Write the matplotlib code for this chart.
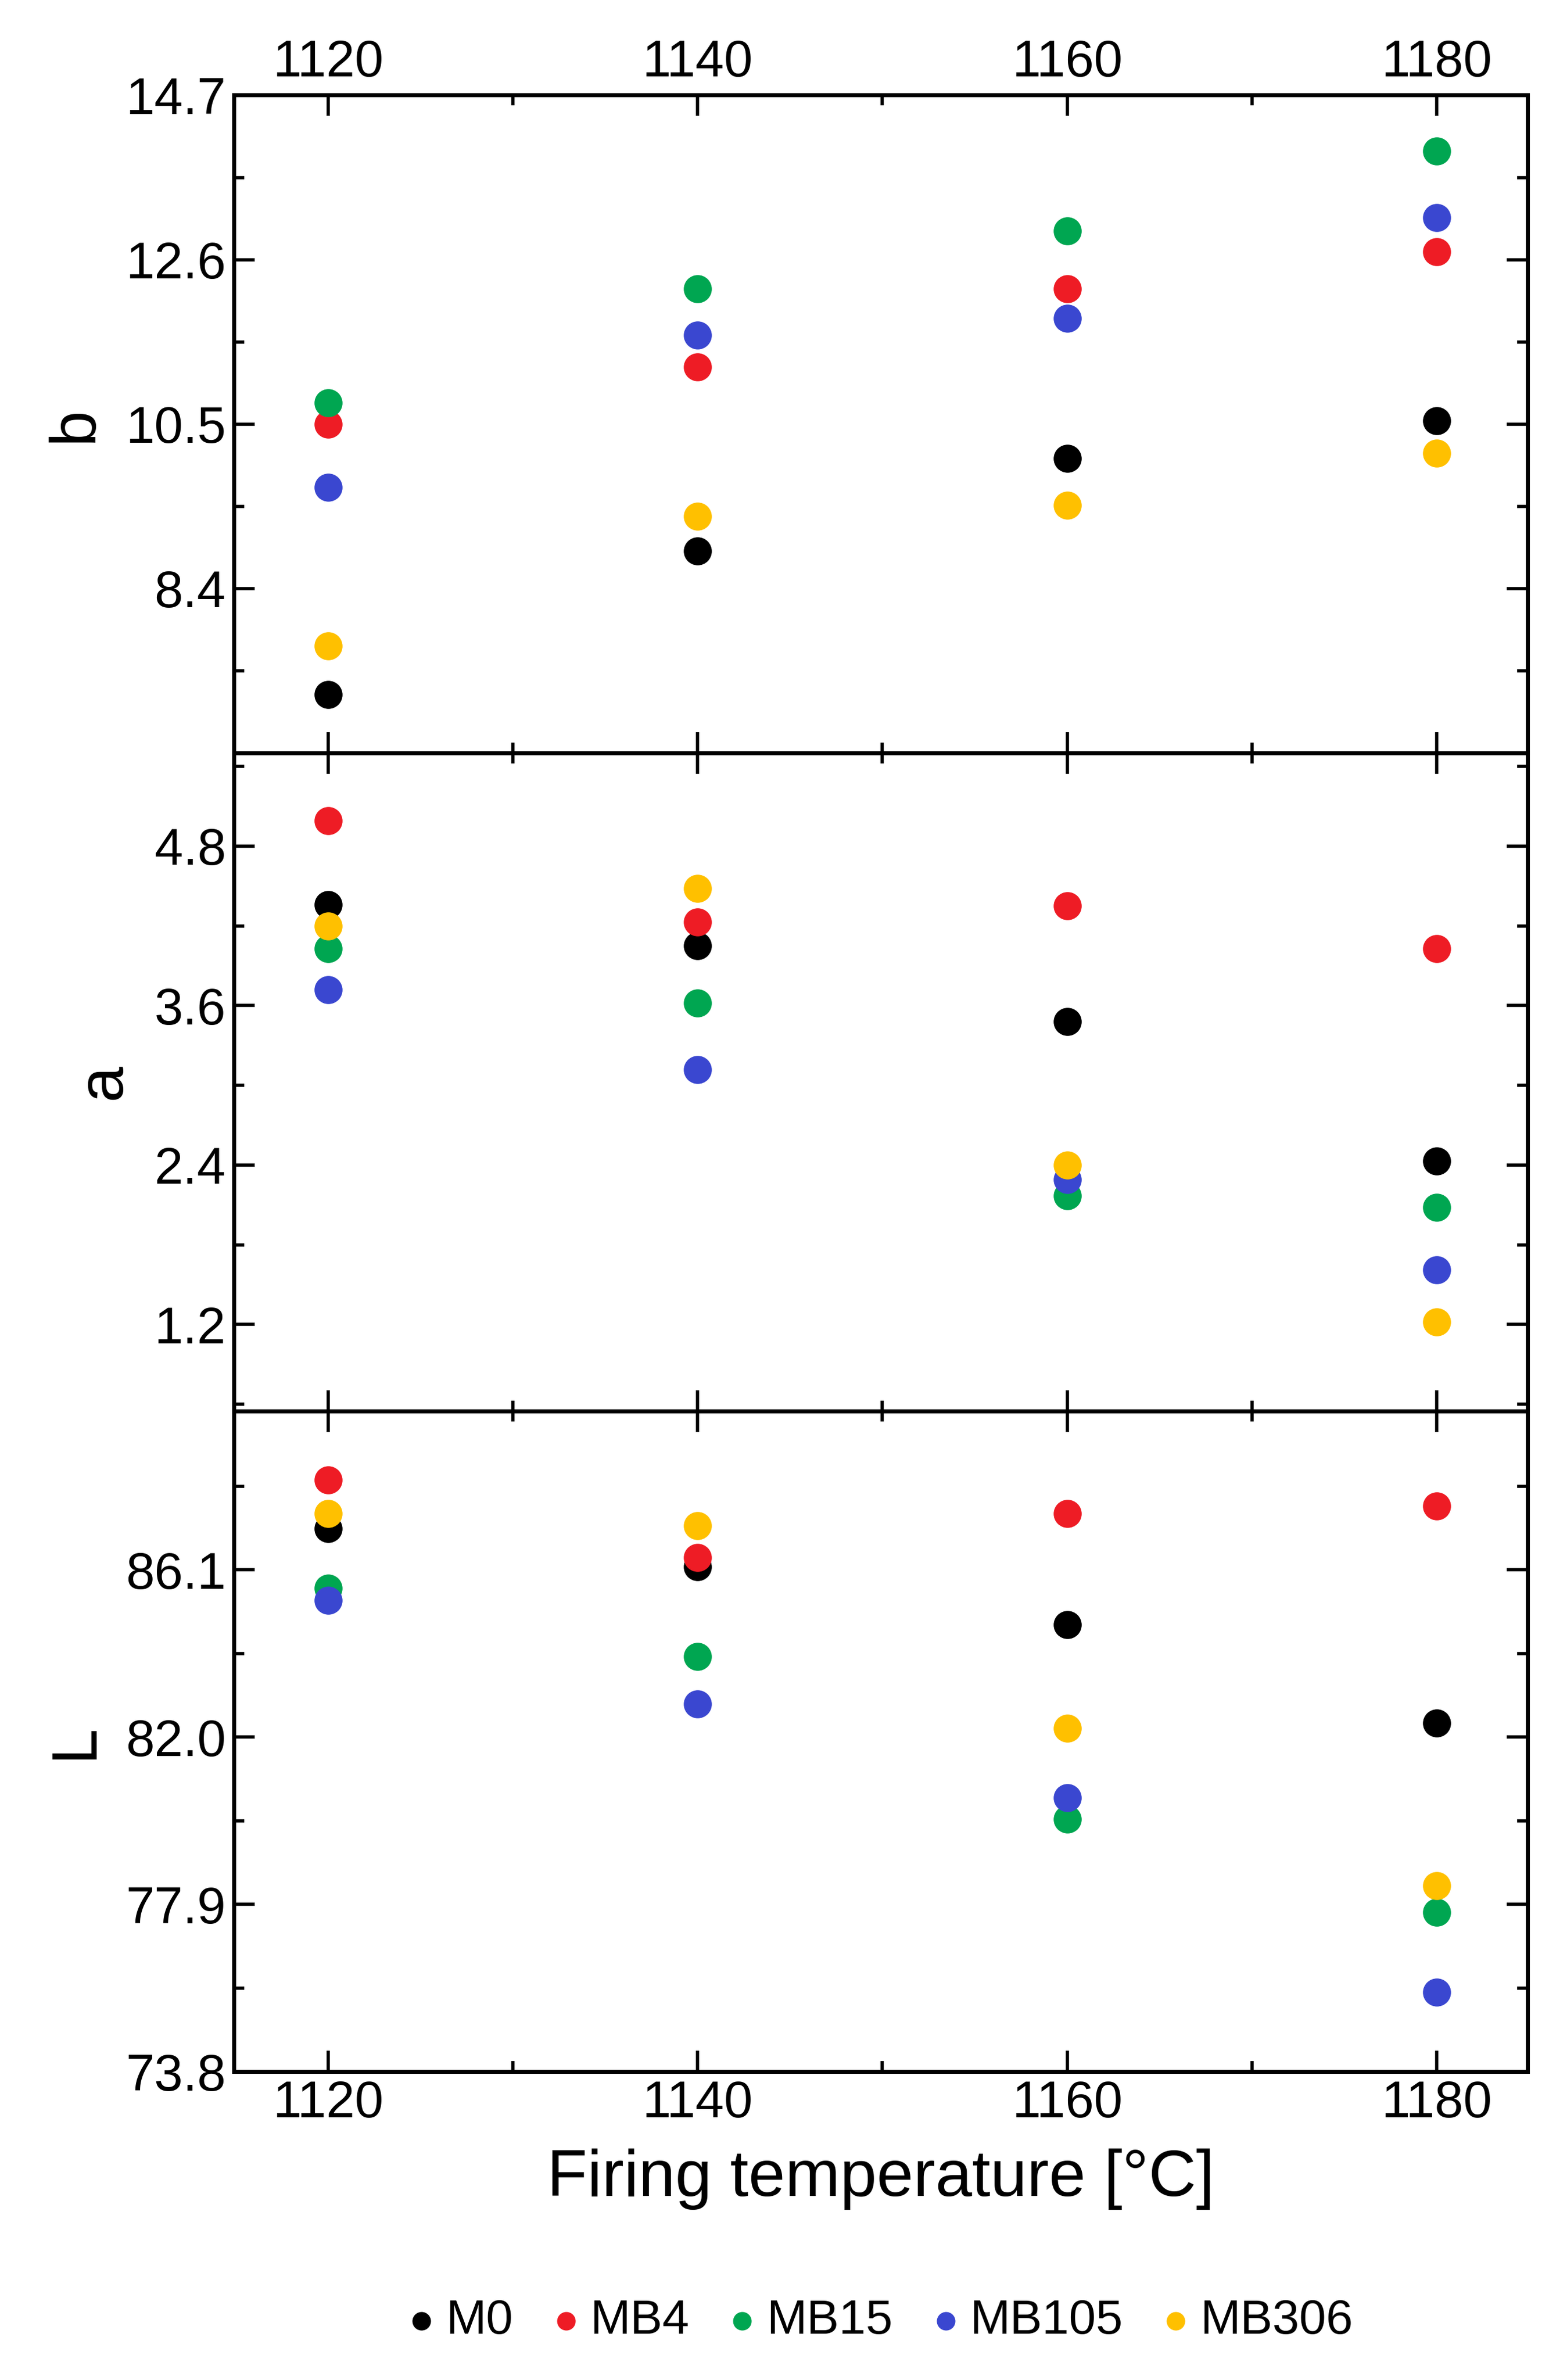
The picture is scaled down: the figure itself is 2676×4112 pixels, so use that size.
import matplotlib.pyplot as plt
from matplotlib.ticker import AutoMinorLocator

plt.rcParams['font.family'] = ['Liberation Sans', 'DejaVu Sans']

temps = [1120, 1140, 1160, 1180]
series = ["M0", "MB4", "MB15", "MB105", "MB306"]
colors = ["#000000", "#ee1c25", "#00a651", "#3a47d0", "#ffc000"]

b_vals = {"M0": [7.05, 8.88, 10.06, 10.54],
          "MB4": [10.50, 11.23, 12.23, 12.70],
          "MB15": [10.77, 12.23, 12.97, 13.99],
          "MB105": [9.69, 11.64, 11.85, 13.14],
          "MB306": [7.67, 9.32, 9.46, 10.13]}
a_vals = {"M0": [4.36, 4.05, 3.48, 2.43],
          "MB4": [4.99, 4.23, 4.35, 4.03],
          "MB15": [4.03, 3.62, 2.17, 2.08],
          "MB105": [3.72, 3.12, 2.29, 1.61],
          "MB306": [4.20, 4.48, 2.40, 1.22]}
L_vals = {"M0": [87.11, 86.17, 84.76, 82.34],
          "MB4": [88.30, 86.40, 87.48, 87.67],
          "MB15": [85.65, 83.98, 79.99, 77.71],
          "MB105": [85.35, 82.82, 80.51, 75.74],
          "MB306": [87.48, 87.18, 82.22, 78.35]}

fig = plt.figure(figsize=(26.76, 41.12), dpi=100)
left, width = 0.151, 0.835
bounds = [(0.6836, 0.960), (0.4072, 0.6836), (0.1296, 0.4072)]
panels = [("b", b_vals, (6.3, 14.7), [8.4, 10.5, 12.6, 14.7], "{:.1f}"),
          ("a", a_vals, (0.55, 5.5), [1.2, 2.4, 3.6, 4.8], "{:.1f}"),
          ("L", L_vals, (73.8, 90.0), [73.8, 77.9, 82.0, 86.1], "{:.1f}")]

axes = []
for i, ((lab, vals, ylim, yt, fmt), (y0, y1)) in enumerate(zip(panels, bounds)):
    ax = fig.add_axes([left, y0, width, y1 - y0])
    for s, c in zip(series, colors):
        ax.scatter(temps, vals[s], s=1150, color=c, label=s, zorder=3)
    ax.set_xlim(1114.9, 1184.9)
    ax.set_ylim(*ylim)
    ax.set_yticks(yt)
    ax.set_yticklabels([fmt.format(v) for v in yt])
    ax.set_xticks(temps)
    ax.yaxis.set_minor_locator(AutoMinorLocator(2))
    ax.xaxis.set_minor_locator(AutoMinorLocator(2))
    ax.tick_params(which='both', direction='in', top=True, right=True,
                   labelsize=64, width=4, pad=10)
    ax.tick_params(which='major', length=26)
    ax.tick_params(which='minor', length=13)
    ax.tick_params(axis='x', labeltop=(i == 0), labelbottom=(i == 2))
    for sp in ax.spines.values():
        sp.set_linewidth(5)
    ax.set_ylabel(lab, fontsize=80, labelpad=25)
    axes.append(ax)

axes[2].set_xlabel("Firing temperature [°C]", fontsize=82, labelpad=25)
handles, labels = axes[0].get_legend_handles_labels()
fig.legend(handles, labels, loc='lower center', bbox_to_anchor=(0.565, -0.003),
           ncol=5, frameon=False, fontsize=60, handletextpad=0.0,
           handlelength=1.0, columnspacing=0.6, markerscale=0.65)

fig.savefig("out.png", dpi=100)
